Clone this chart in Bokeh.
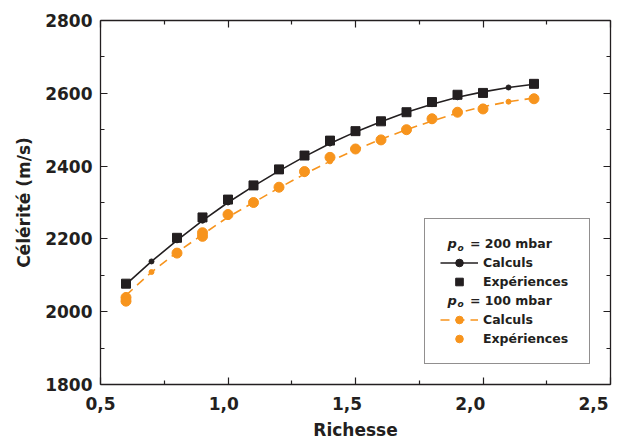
from bokeh.plotting import figure
from bokeh.models import (FixedTicker, LinearAxis, Legend, LegendItem, Label, Range1d,
                          CustomJSTickFormatter)
from bokeh.embed import file_html
from bokeh.resources import INLINE

# ---- data ----
richesse_calc = [0.6, 0.7, 0.8, 0.9, 1.0, 1.1, 1.2, 1.3, 1.4, 1.5, 1.6, 1.7, 1.8, 1.9, 2.0, 2.1, 2.2]
celerite_calc_200 = [2075, 2138, 2196, 2250, 2300, 2345, 2387, 2426, 2462, 2494, 2522, 2548, 2570, 2589, 2604, 2616, 2625]
celerite_calc_100 = [2045, 2109, 2163, 2212, 2260, 2300, 2340, 2378, 2413, 2445, 2474, 2500, 2524, 2546, 2563, 2577, 2587]

richesse_exp_200 = [0.6, 0.8, 0.9, 1.0, 1.1, 1.2, 1.3, 1.4, 1.5, 1.6, 1.7, 1.8, 1.9, 2.0, 2.2]
celerite_exp_200 = [2077, 2203, 2259, 2308, 2347, 2391, 2429, 2470, 2496, 2523, 2548, 2576, 2596, 2601, 2626]

richesse_exp_100 = [0.6, 0.6, 0.8, 0.9, 0.9, 1.0, 1.1, 1.2, 1.3, 1.4, 1.5, 1.6, 1.7, 1.8, 1.9, 2.0, 2.2]
celerite_exp_100 = [2039, 2029, 2161, 2207, 2217, 2267, 2300, 2342, 2385, 2424, 2447, 2472, 2500, 2530, 2548, 2557, 2585]

x_ticks = [0.5, 1.0, 1.5, 2.0, 2.5]
x_tick_labels = ["0,5", "1,0", "1,5", "2,0", "2,5"]
x_minor = [0.75, 1.25, 1.75, 2.25]
y_ticks = [1800, 2000, 2200, 2400, 2600, 2800]
y_minor = [1900, 2100, 2300, 2500, 2700]
pressures = ["200 mbar", "100 mbar"]
series_labels = ["Calculs", "Expériences"]

INK = "#231f20"
ORANGE = "#f7941d"
FONT = "DejaVu Sans"
BLANK = CustomJSTickFormatter(code="return ''")

p = figure(frame_width=510, frame_height=364,
           x_range=Range1d(0.5, 2.5), y_range=Range1d(1800, 2800),
           output_backend="svg", toolbar_location=None,
           min_border_left=100, min_border_top=20, min_border_right=20, min_border_bottom=2,
           x_axis_label=None, y_axis_label="Célérité (m/s)")
# the printed tick labels of the original are set on a slightly narrower scale than its ticks
p.extra_x_ranges = {"labels": Range1d(0.5, 0.5 + 2.0 * 510 / 493)}
p.xgrid.visible = False
p.ygrid.visible = False
p.outline_line_color = None
p.background_fill_color = "white"
p.border_fill_color = "white"


def style_axis(ax, ticks, minor, show_labels=True):
    ax.ticker = FixedTicker(ticks=ticks, minor_ticks=minor)
    ax.axis_line_color = INK
    ax.axis_line_width = 1.3
    ax.major_tick_line_color = INK
    ax.minor_tick_line_color = INK
    ax.major_tick_line_width = 1.2
    ax.minor_tick_line_width = 1.2
    ax.major_tick_in = 7
    ax.major_tick_out = 0
    ax.minor_tick_in = 4
    ax.minor_tick_out = 0
    ax.major_label_text_font = FONT
    ax.major_label_text_font_style = "bold"
    ax.major_label_text_color = INK
    ax.axis_label_text_font = FONT
    ax.axis_label_text_font_style = "bold"
    ax.axis_label_text_font_size = "17px"
    ax.axis_label_text_color = INK
    if show_labels:
        ax.major_label_text_font_size = "17px"
    else:
        ax.formatter = BLANK
        ax.major_label_text_font_size = "0px"
        ax.major_label_standoff = 0


xax = p.xaxis[0]
style_axis(xax, x_ticks, x_minor, show_labels=False)

xlab = LinearAxis(x_range_name="labels", axis_label="Richesse")
style_axis(xlab, x_ticks, [])
xlab.axis_line_color = None
xlab.major_tick_line_color = None
xlab.minor_tick_line_color = None
xlab.major_label_overrides = {t: s for t, s in zip(x_ticks, x_tick_labels)}
xlab.major_label_standoff = 12
xlab.axis_label_standoff = 7
p.add_layout(xlab, "below")

yax = p.yaxis[0]
style_axis(yax, y_ticks, y_minor)
yax.major_label_standoff = 8
yax.axis_label_standoff = 8

top = LinearAxis()
style_axis(top, x_ticks, x_minor, show_labels=False)
p.add_layout(top, "above")
right = LinearAxis()
style_axis(right, y_ticks, y_minor, show_labels=False)
p.add_layout(right, "right")

# ---- series ----
l200 = p.line(richesse_calc, celerite_calc_200, line_color=INK, line_width=1.6)
l100 = p.line(richesse_calc, celerite_calc_100, line_color=ORANGE, line_width=1.6, line_dash="9 6")
d200 = p.scatter(richesse_calc, celerite_calc_200, marker="circle", size=5, fill_color=INK, line_color=INK)
d100 = p.scatter(richesse_calc, celerite_calc_100, marker="circle", size=5, fill_color=ORANGE, line_color=ORANGE)
s200 = p.scatter(richesse_exp_200, celerite_exp_200, marker="square", size=9, fill_color=INK, line_color=INK)
c100 = p.scatter(richesse_exp_100, celerite_exp_100, marker="circle", size=10, fill_color=ORANGE, line_color=ORANGE)
dummy = p.scatter([], [], marker="circle", size=1, fill_alpha=0, line_alpha=0)

legend = Legend(items=[
    LegendItem(label=" ", renderers=[dummy]),
    LegendItem(label=series_labels[0], renderers=[l200, d200]),
    LegendItem(label=series_labels[1], renderers=[s200]),
    LegendItem(label=" ", renderers=[dummy]),
    LegendItem(label=series_labels[0], renderers=[l100, d100]),
    LegendItem(label=series_labels[1], renderers=[c100]),
], location=(324, 20))
legend.border_line_color = INK
legend.border_line_width = 1
# transparent: no data lies beneath the legend, and the group headers below must show through
legend.background_fill_alpha = 0
legend.glyph_width = 38
legend.glyph_height = 19
legend.label_height = 19
legend.label_width = 91
legend.label_standoff = 5
legend.padding = 15
legend.spacing = 0
legend.margin = 0
legend.label_text_font = FONT
legend.label_text_font_style = "bold"
legend.label_text_font_size = "12.5px"
legend.label_text_color = INK
p.add_layout(legend)

# legend group headers: p_o = ... mbar  (placed in data units over the legend's blank rows)
for row_y, txt in zip([2187, 2031], pressures):
    p.add_layout(Label(x=1.861, y=row_y, text="p",
                       text_font=FONT, text_font_style="bold italic", text_font_size="13px",
                       text_color=INK, text_baseline="middle"))
    p.add_layout(Label(x=1.900, y=row_y - 11, text="o",
                       text_font=FONT, text_font_style="bold italic", text_font_size="9px",
                       text_color=INK, text_baseline="middle"))
    p.add_layout(Label(x=1.949, y=row_y, text="= " + txt,
                       text_font=FONT, text_font_style="bold", text_font_size="12.5px",
                       text_color=INK, text_baseline="middle"))

open("out.html", "w").write(file_html(p, INLINE))
